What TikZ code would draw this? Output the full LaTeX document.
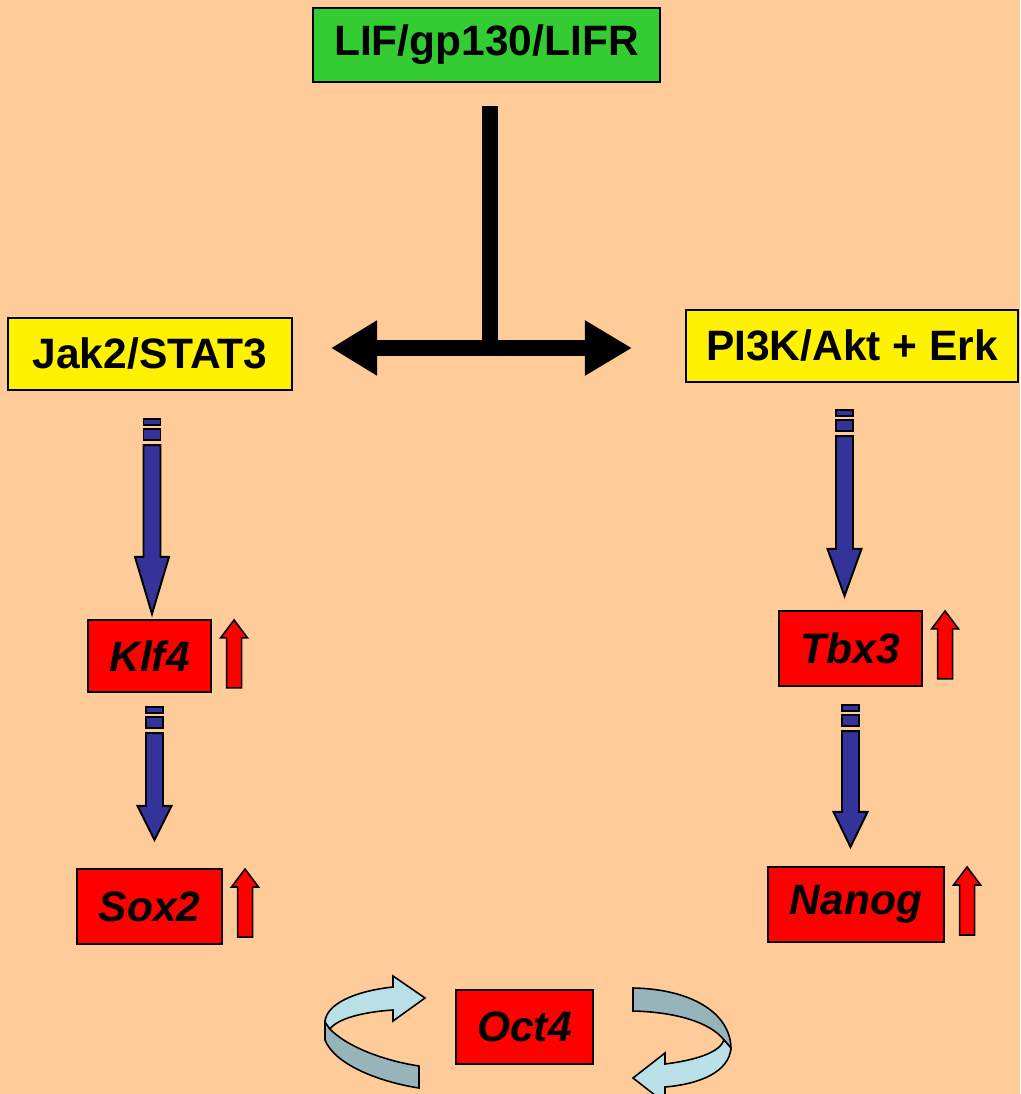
\documentclass[tikz,border=0pt]{standalone}
\usepackage{fontspec}
\setmainfont{Liberation Sans}
\usetikzlibrary{calc,arrows.meta}

\definecolor{peach}{RGB}{255,204,153}
\definecolor{lifgreen}{RGB}{51,204,51}
\definecolor{sigblue}{RGB}{51,51,153}
\definecolor{loopfront}{RGB}{185,224,230}
\definecolor{loopback}{RGB}{150,180,185}

% blue signalling arrow: [xshift]{from}{to}{dash gap}{tip gap}{head length}
\newcommand{\signalarrow}[6][0]{%
  \coordinate (sa) at ($(#2.south)+(#1,#4)$);
  \coordinate (sb) at ($(#2.south |- #3.north)+(#1,-#5)$);
  \draw[sigstyle] ($(sa)+(-8.5,0)$) rectangle ($(sa)+(8.5,6)$);
  \draw[sigstyle] ($(sa)+(-8.5,10)$) rectangle ($(sa)+(8.5,21)$);
  \draw[sigstyle] ($(sa)+(-8.5,26)$) -- ($(sb)+(-8.5,-#6)$) -- ($(sb)+(-17,-#6)$)
    -- (sb) -- ($(sb)+(17,-#6)$) -- ($(sb)+(8.5,-#6)$) -- ($(sa)+(8.5,26)$) -- cycle;}

% small red up arrow beside a gene box
\newcommand{\upmark}[1]{%
  \coordinate (ut) at ($(#1.north east)+(22,1)$);
  \draw[upstyle] (ut) -- ++(13.5,18) -- ++(-6,0) -- ++(0,50) -- ++(-15,0)
    -- ++(0,-50) -- ++(-6,0) -- cycle;}

\begin{document}
\begin{tikzpicture}[x=0.02cm, y=-0.02cm,
  box/.style={draw, line width=1.2pt, inner sep=0pt,
    font=\fontsize{24.2}{29}\selectfont\bfseries},
  gene/.style={box, fill=red, font=\fontsize{24.2}{29}\selectfont\bfseries\itshape},
  sigstyle/.style={draw=black, fill=sigblue, line width=1.1pt},
  upstyle/.style={draw=black, fill=red, line width=0.9pt},
  tbar/.style={line width=0.32cm, black},
  strip/.style={draw=black, line width=0.9pt}]

% Background
\clip (0,0) rectangle (1020,1094);
\fill[peach] (0,0) rectangle (1020,1094);

% Receptor and pathways
\node (lif) at (486.5,45) [box, fill=lifgreen, minimum width=6.94cm, minimum height=1.48cm] {LIF/gp130/LIFR};
\node (jak) at (150,354) [box, fill=yellow, minimum width=5.68cm, minimum height=1.44cm] {Jak2/STAT3};
\node (pi) at (852,346) [box, fill=yellow, minimum width=6.64cm, minimum height=1.44cm] {PI3K/Akt + Erk};

% Genes, left
\node (klf) at (149.5,656) [gene, minimum width=2.46cm, minimum height=1.44cm] {Klf4};
\node (sox) at (149.5,906.5) [gene, minimum width=2.9cm, minimum height=1.5cm] {Sox2};

% Genes, right
\node (tbx) at (850.5,648.5) [gene, minimum width=2.86cm, minimum height=1.5cm] {Tbx3};
\node (nanog) at (856,904.5) [gene, minimum width=3.52cm, minimum height=1.5cm] {Nanog};

% Oct4
\node (oct) at (524.5,1027) [gene, minimum width=2.74cm, minimum height=1.48cm] {Oct4};

% T-shaped split
\coordinate (hub) at (489.5,348);
\draw[tbar] ($(lif.south -| hub)+(0,23)$) -- (hub);
\draw[tbar, {Triangle[length=0.92cm,width=1.04cm]}-{Triangle[length=0.94cm,width=1.04cm]}]
  ($(jak.east |- hub)+(38,0)$) -- ($(pi.west |- hub)+(-53,0)$);

% Blue arrows
\signalarrow[2]{jak}{klf}{28}{5}{57}
\signalarrow[5]{klf}{sox}{14}{28}{34}
\signalarrow[-7.5]{pi}{tbx}{27}{14}{47}
\signalarrow[0]{tbx}{nanog}{18}{19}{35}

% Red up arrows
\upmark{klf}
\upmark{sox}
\upmark{tbx}
\upmark{nanog}

% Loop arrow, left
\filldraw[strip, fill=loopback] (325,1022) -- (325,1040) .. controls (335,1065) and (380,1082) .. (419,1088)
  -- (419,1066) .. controls (380,1060) and (345,1045) .. (330,1029) -- cycle;
\filldraw[strip, fill=loopfront] (325,1022) .. controls (326,1004) and (355,991) .. (393,987)
  -- (393,976) -- (425,998) -- (393,1021) -- (393,1010) .. controls (362,1012) and (337,1019) .. (330,1029) -- cycle;

% Loop arrow, right
\filldraw[strip, fill=loopback] (633,988) .. controls (690,989) and (730,1012) .. (731,1048)
  -- (724,1040) .. controls (710,1022) and (675,1012) .. (633,1011) -- cycle;
\filldraw[strip, fill=loopfront] (731,1048) .. controls (729,1072) and (700,1084) .. (665,1087)
  -- (665,1103) -- (633,1078) -- (665,1053) -- (665,1064) .. controls (697,1060) and (720,1052) .. (724,1040) -- cycle;

\end{tikzpicture}
\end{document}
